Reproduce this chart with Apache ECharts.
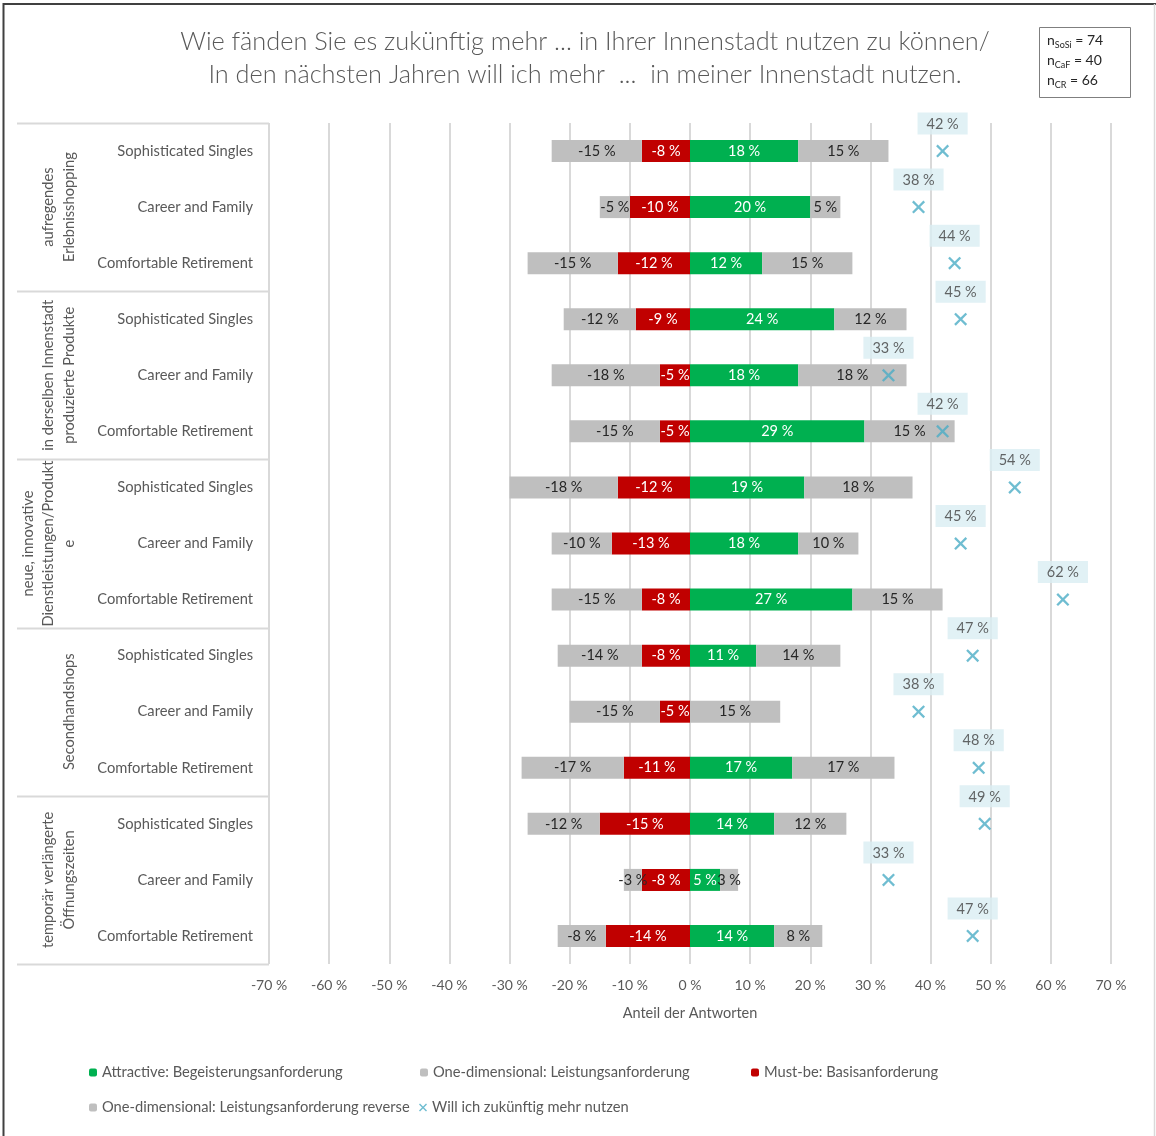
<!DOCTYPE html>
<html>
<head>
<meta charset="utf-8">
<script src="https://cdn.jsdelivr.net/npm/echarts@6/dist/echarts.min.js"></script>
<style>
html,body{margin:0;padding:0;background:#fff;}
#chart{width:1156px;height:1136px;}
</style>
</head>
<body>
<div id="chart"></div>
<script>
const groups = ['aufregendes\nErlebnisshopping', 'in derselben Innenstadt\nproduzierte Produkte', 'neue, innovative\nDienstleistungen/Produkt\ne', 'Secondhandshops', 'temporär verlängerte\nÖffnungszeiten'];
const segments = ['Sophisticated Singles', 'Career and Family', 'Comfortable Retirement'];
const categories = [];
groups.forEach(function () { segments.forEach(function (s) { categories.push(s); }); });

const attractive = [18, 20, 12, 24, 18, 29, 19, 18, 27, 11, 0, 17, 14, 5, 14];
const oneDim = [15, 5, 15, 12, 18, 15, 18, 10, 15, 14, 15, 17, 12, 3, 8];
const mustBe = [-8, -10, -12, -9, -5, -5, -12, -13, -8, -8, -5, -11, -15, -8, -14];
const oneDimRev = [-15, -5, -15, -12, -18, -15, -18, -10, -15, -14, -15, -17, -12, -3, -8];
const willUse = [42, 38, 44, 45, 33, 42, 54, 45, 62, 47, 38, 48, 49, 33, 47];
const xTicks = { min: -70, max: 70, interval: 10 };
const nLines = [['SoSi', '74'], ['CaF', '40'], ['CR', '66']];

const seriesNames = ['Attractive: Begeisterungsanforderung', 'One-dimensional: Leistungsanforderung', 'Must-be: Basisanforderung', 'One-dimensional: Leistungsanforderung reverse', 'Will ich zukünftig mehr nutzen'];

const FONT = 'Lato';
const TXT = '#595959';
const FS = 14.7;
const xPath = 'path://M0,1.5L1.5,0L6,4.5L10.5,0L12,1.5L7.5,6L12,10.5L10.5,12L6,7.5L1.5,12L0,10.5L4.5,6Z';

function pctLabel(color) {
  return {
    show: true, position: 'inside', color: color, fontFamily: FONT, fontSize: 14.5,
    formatter: function (p) { return p.value === 0 ? '' : p.value + ' %'; }
  };
}

const chart = echarts.init(document.getElementById('chart'), null, { renderer: 'canvas' });

function legendAt(name, left, top) {
  return {
    data: [name], left: left, top: top, itemWidth: 8, itemHeight: 8, itemGap: 5,
    textStyle: { color: TXT, fontFamily: FONT, fontSize: FS }, selectedMode: false, padding: 0
  };
}

const option = {
  animation: false,
  backgroundColor: '#fff',
  title: {
    text: 'Wie fänden Sie es zukünftig mehr ... in Ihrer Innenstadt nutzen zu können/\nIn den nächsten Jahren will ich mehr  ...  in meiner Innenstadt nutzen.',
    left: 580, top: 20, textAlign: 'center',
    textStyle: { color: TXT, fontFamily: FONT, fontWeight: 300, fontSize: 25.3, lineHeight: 33, align: 'center' }
  },
  legend: [
    legendAt(seriesNames[0], 89, 1065),
    legendAt(seriesNames[1], 420, 1065),
    legendAt(seriesNames[2], 751, 1065),
    legendAt(seriesNames[3], 89, 1100),
    legendAt(seriesNames[4], 419, 1100)
  ],
  grid: { left: 269, right: 45, top: 123, bottom: 172, containLabel: false },
  xAxis: {
    type: 'value', min: xTicks.min, max: xTicks.max, interval: xTicks.interval,
    axisLine: { show: false }, axisTick: { show: false },
    splitLine: { show: true, lineStyle: { color: '#d9d9d9', width: 2 } },
    axisLabel: { color: TXT, fontFamily: FONT, fontSize: 14, margin: 14, formatter: function (v) { return v + ' %'; } },
    name: 'Anteil der Antworten', nameLocation: 'middle', nameGap: 42,
    nameTextStyle: { color: TXT, fontFamily: FONT, fontSize: 14.5 }
  },
  yAxis: {
    type: 'category', inverse: true, data: categories,
    axisLine: { show: false }, axisTick: { show: false },
    axisLabel: { color: TXT, fontFamily: FONT, fontSize: FS, margin: 16 }
  },
  series: [
    { name: seriesNames[0], type: 'bar', stack: 'all', barWidth: 22, data: attractive,
      itemStyle: { color: '#00b050' }, label: pctLabel('#ffffff') },
    { name: seriesNames[1], type: 'bar', stack: 'all', barWidth: 22, data: oneDim,
      itemStyle: { color: '#bfbfbf' }, label: pctLabel('#262626') },
    { name: seriesNames[2], type: 'bar', stack: 'all', barWidth: 22, data: mustBe,
      itemStyle: { color: '#c00000' }, label: pctLabel('#ffffff') },
    { name: seriesNames[3], type: 'bar', stack: 'all', barWidth: 22, data: oneDimRev,
      itemStyle: { color: '#bfbfbf' }, label: pctLabel('#262626') },
    { name: seriesNames[4], type: 'scatter', symbol: xPath, symbolSize: 13,
      data: willUse.map(function (v, i) { return [v, i]; }),
      itemStyle: { color: '#4bacc6' },
      label: {
        show: true, position: 'top', distance: 10,
        backgroundColor: '#daeef3', padding: [4, 9, 3, 9],
        color: '#404040', fontFamily: FONT, fontSize: 14.5,
        formatter: function (p) { return p.value[0] + ' %'; }
      }
    }
  ]
};
chart.setOption(option);

// decorations computed from the library's own scales
const yPix = categories.map(function (c, i) { return chart.convertToPixel({ gridIndex: 0 }, [0, i])[1]; });
const band = yPix[1] - yPix[0];
const graphics = [];
for (let g = 0; g <= groups.length; g++) {
  const y = Math.round(yPix[0] - band / 2 + g * 3 * band) + 0.5;
  graphics.push({ type: 'line', shape: { x1: 17, y1: y, x2: 269, y2: y }, style: { stroke: '#d9d9d9', lineWidth: 2 }, silent: true });
}
groups.forEach(function (label, g) {
  const n = label.split('\n').length;
  const lh = 20.5;
  const cx = 69 - (n - 1) * lh / 2;
  graphics.push({
    type: 'text', x: cx, y: yPix[g * 3 + 1], rotation: Math.PI / 2, silent: true,
    style: { text: label, align: 'center', verticalAlign: 'middle', fill: TXT, font: FS + 'px ' + FONT, lineHeight: lh }
  });
});
// n-box
graphics.push({ type: 'rect', shape: { x: 1039.5, y: 27.5, width: 91, height: 70 }, style: { fill: '#fff', stroke: '#7f7f7f', lineWidth: 1 }, silent: true });
graphics.push({
  type: 'text', x: 1047, y: 30, silent: true,
  style: {
    text: nLines.map(function (l) { return '{n|n}{s|' + l[0] + '}{n| = ' + l[1] + '}'; }).join('\n'),
    rich: {
      n: { fontFamily: FONT, fontSize: 14, fill: '#262626', lineHeight: 20, verticalAlign: 'middle' },
      s: { fontFamily: FONT, fontSize: 9, fill: '#262626', lineHeight: 12, verticalAlign: 'bottom' }
    }
  }
});
// frame
graphics.push({ type: 'line', shape: { x1: 3.5, y1: 3, x2: 3.5, y2: 1136 }, style: { stroke: '#404040', lineWidth: 2 }, silent: true });
graphics.push({ type: 'line', shape: { x1: 3, y1: 4, x2: 1156, y2: 4 }, style: { stroke: '#404040', lineWidth: 2 }, silent: true });
graphics.push({ type: 'line', shape: { x1: 1154.5, y1: 4, x2: 1154.5, y2: 1136 }, style: { stroke: '#d9d9d9', lineWidth: 1.5 }, silent: true });
chart.setOption({ graphic: graphics });
</script>
</body>
</html>
